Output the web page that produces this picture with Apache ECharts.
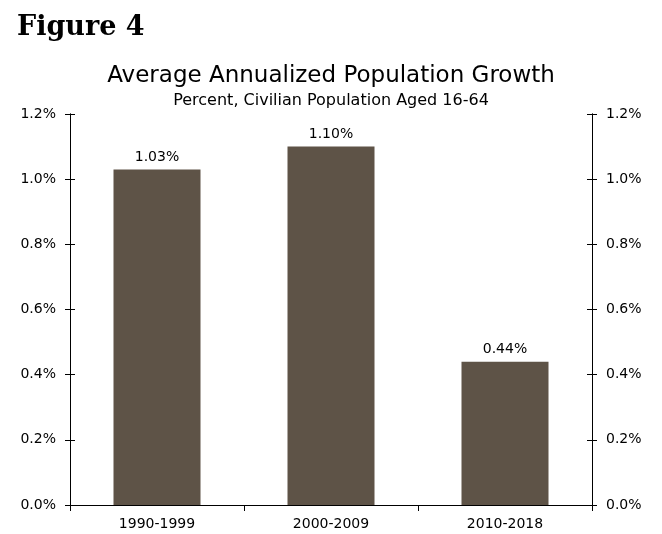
<!DOCTYPE html>
<html><head><meta charset="utf-8">
<script src="https://cdn.jsdelivr.net/npm/echarts@6/dist/echarts.min.js"></script>
<style>html,body{margin:0;padding:0;background:#fff}#c{width:662px;height:534px}</style>
</head><body><div id="c"></div>
<script>
const categories = ['1990-1999', '2000-2009', '2010-2018'];
const growth = [1.03, 1.10, 0.44];
const yTicks = ['0.0%', '0.2%', '0.4%', '0.6%', '0.8%', '1.0%', '1.2%'];

const F = '"DejaVu Sans", Verdana, sans-serif';
const chart = echarts.init(document.getElementById('c'));
function yAx(pos, inside, showLabel) {
  return {
    type: 'value', position: pos, min: 0, max: 1.2, interval: 0.2,
    axisLine: { show: true, lineStyle: { color: '#000', width: 1 } },
    axisTick: { show: true, inside: inside, length: 5, lineStyle: { color: '#000' } },
    splitLine: { show: false },
    axisLabel: { show: showLabel, margin: 14, fontFamily: F, fontSize: 14, color: '#000',
      formatter: v => yTicks[Math.round(v / 0.2)] }
  };
}
chart.setOption({
  animation: false,
  title: [
    { text: 'Figure 4', left: 12, top: 9, textStyle: { fontFamily: '"DejaVu Serif", serif', fontWeight: 'bold', fontSize: 27, color: '#000' } },
    { text: 'Average Annualized Population Growth', left: 'center', top: 60,
      textStyle: { fontFamily: F, fontWeight: 'normal', fontSize: 23, color: '#000' } },
    { text: 'Percent, Civilian Population Aged 16-64', left: 'center', top: 88,
      textStyle: { fontFamily: F, fontWeight: 'normal', fontSize: 16, color: '#000' } }
  ],
  grid: { left: 70, right: 70, top: 114, bottom: 29 },
  xAxis: [{
    type: 'category', data: categories, position: 'bottom',
    axisLine: { show: true, lineStyle: { color: '#000' } },
    axisTick: { show: true, length: 6, lineStyle: { color: '#000' } },
    axisLabel: { fontFamily: F, fontSize: 14, color: '#000', margin: 12 }
  }, {
    type: 'category', data: categories, position: 'top',
    axisLine: { show: true, lineStyle: { color: '#000' } },
    axisTick: { show: false }, axisLabel: { show: false }
  }],
  yAxis: [yAx('left', false, true), yAx('left', true, false), yAx('right', false, true), yAx('right', true, false)],
  series: [{
    type: 'bar', data: growth, barWidth: '50%', xAxisIndex: 0, yAxisIndex: 0,
    itemStyle: { color: '#5e5347' },
    label: { show: true, position: 'top', distance: 5, fontFamily: F, fontSize: 14, color: '#000',
      formatter: p => p.value.toFixed(2) + '%' }
  }]
});
</script></body></html>
